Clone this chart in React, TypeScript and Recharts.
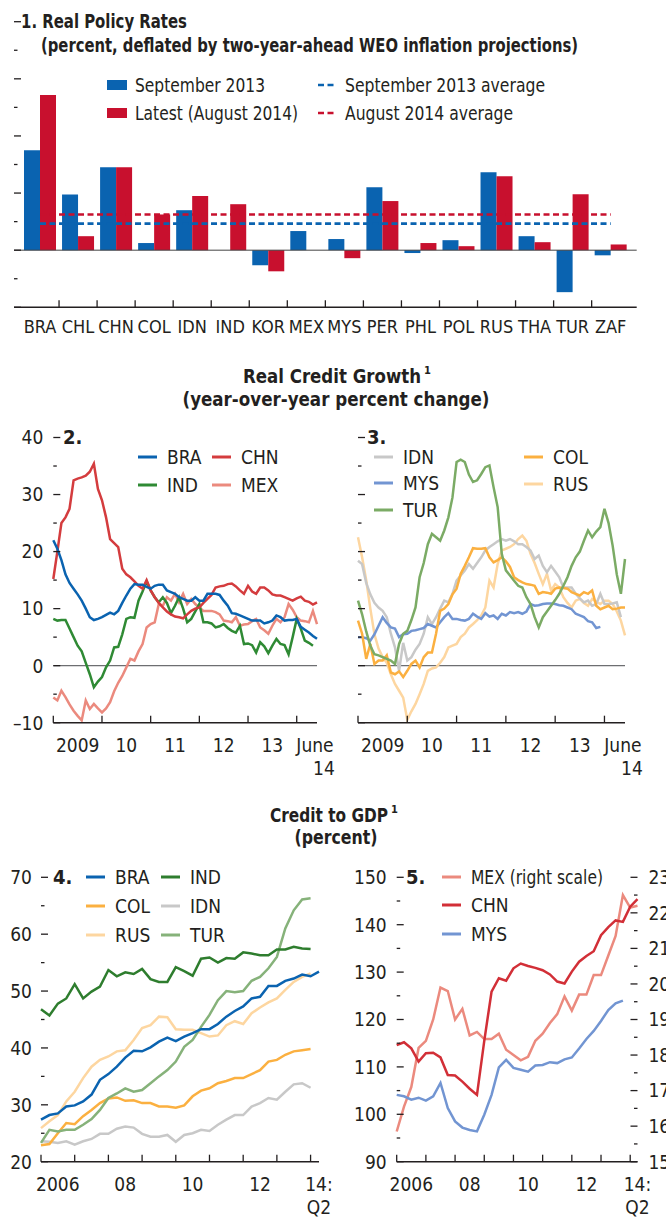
import { BarChart, Bar, LineChart, Line, XAxis, YAxis, ReferenceLine } from "recharts";

const FONT = "'Liberation Sans Narrow', 'Arial Narrow', 'DejaVu Sans Condensed', sans-serif";
const INK = "#231f20";

// ---- 1. Real policy rates (percent)
const policyCountries = ["BRA", "CHL", "CHN", "COL", "IDN", "IND", "KOR", "MEX", "MYS", "PER", "PHL", "POL", "RUS", "THA", "TUR", "ZAF"];
const policySep2013 = [3.5, 1.95, 2.9, 0.25, 1.4, null, -0.53, 0.67, 0.39, 2.2, -0.1, 0.35, 2.73, 0.49, -1.47, -0.18];
const policyAug2014 = [5.43, 0.49, 2.9, 1.25, 1.9, 1.61, -0.74, null, -0.28, 1.72, 0.25, 0.14, 2.59, 0.28, 1.96, 0.2];
const policyAvgSep2013 = 0.93;
const policyAvgAug2014 = 1.25;
const policyTicks = [-2, -1, 0, 1, 2, 3, 4, 5, 6, 7, 8];

// ---- 2./3. Real credit growth, monthly from Jan 2009
const growthBRA = [22, 20.5, 18.5, 16, 14.5, 13.5, 12.5, 11.4, 10, 8.5, 8, 8.2, 8.5, 8.9, 9.3, 9, 9.6, 11, 12.3, 13.5, 14.3, 14.2, 14.2, 13.8, 13.5, 14, 14.2, 14.2, 13.2, 12.9, 12.6, 12, 11.7, 11.4, 11.4, 12, 11.4, 11.4, 12.6, 12.6, 12.6, 12.4, 11.4, 10.5, 9.2, 9.1, 8.8, 8.5, 8.2, 7.9, 7.9, 7.9, 7.4, 7.6, 7.9, 8.8, 8.5, 7.9, 8, 8, 8.2, 6.8, 6.3, 5.8, 5.2, 4.7];
const growthCHN = [15.2, 20, 25, 26, 27.5, 32.5, 32.8, 33, 33.3, 34, 35.4, 31, 29, 26, 22.2, 21.5, 20.8, 17, 16, 15.5, 14.8, 14, 13.5, 15, 13.2, 12, 11, 10.2, 9.5, 9, 8.6, 8.5, 8.3, 9, 9.6, 10, 10.2, 11, 11.7, 12.4, 13.7, 13.9, 14, 14.3, 14.4, 13.9, 13.2, 12.6, 14, 13, 12.6, 13.7, 13.7, 13.2, 12.5, 12.3, 12.3, 12, 11.7, 11.4, 11.8, 12.1, 11.4, 11.2, 10.7, 11.1];
const growthIND = [8.2, 7.9, 8, 8, 6.5, 5, 3.5, 2.5, 0.5, -1.5, -3.8, -2.8, -2, -0.3, 0.9, 3.2, 3.3, 5.5, 8.2, 8.5, 8.4, 11.4, 13, 14.8, 13.2, 12, 11.1, 12, 11, 9.2, 10.5, 12, 10, 7.6, 8.2, 9.5, 10.8, 7.6, 7.6, 7.4, 6.7, 6.9, 7.3, 6.6, 6.1, 5.8, 7, 3.8, 3.9, 3.6, 2.3, 4.1, 3.4, 2.2, 3.5, 4.7, 3.8, 3.6, 2, 5, 8.2, 6.5, 4.4, 4, 3.5];
const growthMEX = [-5.6, -6.1, -4.4, -5.5, -6.8, -7.9, -8.8, -9.6, -6.1, -7.6, -6.7, -7.5, -8.2, -7.5, -6.4, -4.5, -3, -1.8, -0.3, 1.2, 0.9, 2.5, 3.8, 6.7, 7.3, 7.6, 10.8, 10.5, 12, 11.4, 12.6, 11.1, 12.6, 10.8, 11.7, 10.8, 10.2, 9.6, 9.6, 9.6, 9.4, 9, 7.9, 7.8, 7.6, 8.5, 7, 7.2, 7.3, 7.8, 8.2, 6.7, 6.2, 5.6, 7, 8.2, 7.6, 8.5, 10.8, 9.8, 8.5, 7.9, 7.8, 7.6, 9.6, 7.3];
const growthIDN = [18.4, 17.8, 14.5, 12.5, 11, 10.2, 9.6, 8.5, 5.6, 3.2, -0.9, 4, 0.9, 1.5, 2.8, 3.8, 5.6, 8.5, 7.3, 8.5, 10, 11.4, 11.1, 12.6, 14.9, 15.8, 16.7, 17.8, 17, 18, 19, 20.2, 20.8, 21.3, 21.8, 22.2, 21.9, 22.2, 21.8, 21.3, 21.3, 20.8, 20.2, 18.7, 19.3, 17.5, 16.4, 17.5, 16.5, 15.5, 13.7, 13.7, 13.7, 12.6, 11.8, 11.1, 11.4, 10.5, 10.8, 12.6, 10.8, 10.8, 10.9, 11.1, 8.5];
const growthMYS = [5, 5, 4.8, 4.4, 5.5, 7, 8.5, 7.5, 6.7, 6.5, 5, 5.5, 5.6, 6.1, 6.2, 6.4, 6.6, 7.3, 7, 6.7, 7.6, 8.5, 9.2, 8.2, 8.2, 8, 7.9, 8.2, 9.1, 8.6, 8.2, 9.2, 8.6, 8.8, 8.2, 9.1, 8.8, 9.4, 9.2, 9.4, 9.1, 9.5, 10.8, 10.5, 10.6, 10.8, 10.9, 10.9, 10.8, 10.6, 10.5, 10.2, 9.9, 9.1, 8.8, 8.5, 7.8, 7.6, 6.6, 6.8];
const growthTUR = [11.4, 9, 6, 3.5, 2, 1.8, 1.5, 1.2, 0.9, 0.3, 3.8, 5.6, 6.1, 8, 10.2, 15.5, 18, 21.3, 23.1, 22.5, 21.9, 23.7, 26, 29.5, 35.7, 36.1, 35.7, 33.5, 32.2, 32.5, 33.6, 34.8, 35.1, 31.3, 27.8, 19.6, 16.7, 15.8, 14.9, 14, 13.7, 12, 10.8, 8.5, 6.7, 8.5, 9.5, 10.5, 11.5, 12.6, 14, 15.5, 17.5, 19, 20, 21.9, 23.7, 22.5, 23.5, 24.3, 27.5, 25, 21, 16, 12.6, 18.7];
const growthCOL = [7.9, 5.6, 1.2, 3.8, 0.3, 0.9, 0.9, 1.8, -1.2, -1.5, -1, -2, -0.9, 0.3, 0.9, -0.3, 1.5, 2.3, 2.3, 5.6, 9.6, 10, 10.8, 12.5, 13.5, 16.1, 17.5, 19, 20.6, 20.5, 20.5, 20.6, 19, 18.1, 18.5, 19, 18.3, 17.3, 15.5, 15, 14.6, 14.3, 14.2, 14, 12.6, 12.9, 12.8, 12.6, 13.5, 13.7, 13.6, 13.5, 12.9, 12.6, 12.3, 12.9, 12.6, 13.2, 10.5, 9.9, 10.2, 10.5, 9.9, 10, 10.2, 10.2];
const growthRUS = [22.5, 19, 15, 10, 5.5, 3, 1.5, 0.5, -1.5, -3.2, -4.4, -5.6, -9.5, -8, -6.7, -5, -3.2, -0.9, -0.5, -0.3, 0.5, 1.5, 3.2, 3.5, 3.8, 5, 5.6, 6.7, 7.3, 8, 8.8, 10.2, 14.9, 13.7, 17.8, 20.2, 20.5, 20.8, 21.3, 22.2, 22.8, 21.9, 19.6, 18, 16.1, 14.3, 16.1, 13.2, 14.3, 13.7, 12, 11, 10.2, 11.4, 11.7, 11, 10.5, 11.7, 11.2, 10.8, 11.4, 11.4, 10.8, 9.5, 7.9, 5.3];
const growthYearMarks = [0, 12, 24, 36, 48, 60];
const growthLabelPos = [6, 18, 30, 42, 54, 64.5];
const growthLabelText = ["2009", "10", "11", "12", "13", "June"];
const growthTicksY = [-10, -5, 0, 5, 10, 15, 20, 25, 30, 35, 40];

// ---- 4./5. Credit to GDP, quarterly from 2006:Q1
const gdpBRA = [27.4, 28.2, 28.5, 29.7, 29.9, 30.6, 31.8, 34.4, 35.4, 36.7, 38.3, 39.5, 39.4, 40.1, 41.1, 41.8, 41.2, 42, 42.6, 43.3, 43.3, 44.2, 45.5, 46.5, 47.3, 48.7, 49, 50.9, 50.9, 51.8, 52.2, 52.9, 52.6, 53.4];
const gdpIND = [46.8, 45.7, 47.8, 48.7, 51.2, 48.7, 49.9, 50.8, 53.7, 52.6, 53.3, 53, 53.9, 52.1, 51.6, 51.6, 54.2, 53.5, 52.7, 55.7, 55.9, 55, 55.8, 55.7, 56.8, 56.6, 56.3, 56.3, 57.3, 57.3, 57.8, 57.5, 57.4];
const gdpCOL = [22.9, 23.1, 25, 26.8, 26.6, 28, 29.1, 30.3, 31.1, 31.3, 30.7, 30.8, 30.3, 30.3, 29.7, 29.7, 29.5, 29.9, 31.5, 32.5, 32.9, 33.8, 34.2, 34.7, 34.7, 35.4, 36.1, 37.6, 37.9, 38.8, 39.4, 39.6, 39.8];
const gdpIDN = [23.6, 23.5, 23.3, 23.6, 23, 23.6, 24, 24.9, 24.9, 25.8, 26.2, 26, 24.9, 24.4, 24.4, 24.7, 23.5, 24.7, 25, 25.6, 25.4, 26.5, 27.4, 28.2, 28.2, 29.7, 30.3, 31.2, 30.9, 32.3, 33.6, 33.8, 33];
const gdpRUS = [25.9, 27.1, 28.2, 30.6, 32.3, 34.7, 36.7, 37.9, 38.5, 39.4, 39.6, 41.4, 43.5, 44, 45.5, 45.4, 43.3, 43.2, 43.2, 42.6, 42, 42.2, 44, 44.7, 44.2, 46.1, 47.1, 48, 48.7, 50.2, 51.6, 52.5, 53.1];
const gdpTUR = [23.3, 25.6, 25.3, 25.6, 25.6, 26.5, 27.5, 29.1, 31.2, 32, 32.9, 32.3, 32.6, 33.8, 35, 36.1, 37.6, 40.2, 41.4, 43.7, 45.8, 48.4, 50, 49.8, 50, 51.8, 52.5, 54, 56, 61, 64.2, 66.1, 66.3];
const gdpCHN = [114.6, 115.2, 113.9, 111.1, 112.9, 113, 112, 108.3, 108.2, 106.9, 105.4, 104.1, 115.5, 125.9, 128.7, 128.2, 130.8, 131.8, 131.3, 130.9, 130.4, 129.5, 128, 127.6, 130.1, 132.2, 133.4, 134.4, 137.8, 139.5, 140.9, 140.6, 143.8, 145.4];
const gdpMYS = [104.1, 103.8, 103.1, 103.5, 102.9, 103.8, 106.6, 101.3, 98.5, 97.2, 96.7, 96.4, 99.9, 104.1, 109.9, 111.5, 109.8, 109.4, 109, 110.3, 110.4, 111, 110.8, 111.6, 112, 113.9, 115.9, 117.6, 119.7, 122, 123.4, 124];
const gdpMEX = [15.85, 16.55, 17.1, 18.2, 18.4, 19, 19.9, 19.8, 19, 19.3, 18.55, 18.65, 18.45, 18.45, 18.6, 18.15, 18, 17.85, 17.95, 18.4, 18.6, 18.9, 19.15, 19.65, 19.25, 19.7, 19.7, 20.25, 20.25, 20.8, 21.35, 22.5, 22.15, 22.2];
const gdpYearMarks = [0, 4, 8, 12, 16, 20, 24, 28, 32];
const gdpLabelPos = [2, 10, 18, 26, 33];
const gdpLabelText = ["2006", "08", "10", "12", "14:"];
const gdpTicksLeft4 = [20, 25, 30, 35, 40, 45, 50, 55, 60, 65, 70];
const gdpTicksLeft5 = [90, 95, 100, 105, 110, 115, 120, 125, 130, 135, 140, 145, 150];
const gdpTicksRight5 = [15, 15.5, 16, 16.5, 17, 17.5, 18, 18.5, 19, 19.5, 20, 20.5, 21, 21.5, 22, 22.5, 23];

const C = {
  blue: "#0a63b0",
  red: "#c8102e",
  chn2: "#d43c3e",
  ind: "#2f8a34",
  mex: "#eb8a7e",
  idn: "#c8c8c8",
  mys: "#7295d2",
  tur: "#7bab65",
  col: "#fbb040",
  rus: "#fdd6a0",
  ind4: "#2e7d2e",
  tur4: "#86b27a",
  chn5: "#d22f37",
};

const growthRows = growthBRA.map((_, m) => ({
  m,
  BRA: growthBRA[m] ?? null,
  CHN: growthCHN[m] ?? null,
  IND: growthIND[m] ?? null,
  MEX: growthMEX[m] ?? null,
  IDN: growthIDN[m] ?? null,
  MYS: growthMYS[m] ?? null,
  TUR: growthTUR[m] ?? null,
  COL: growthCOL[m] ?? null,
  RUS: growthRUS[m] ?? null,
}));

const gdpRows = gdpBRA.map((_, q) => ({
  q,
  BRA: gdpBRA[q] ?? null,
  IND: gdpIND[q] ?? null,
  COL: gdpCOL[q] ?? null,
  IDN: gdpIDN[q] ?? null,
  RUS: gdpRUS[q] ?? null,
  TUR: gdpTUR[q] ?? null,
  CHN: gdpCHN[q] ?? null,
  MYS: gdpMYS[q] ?? null,
  MEX: gdpMEX[q] ?? null,
}));

const fmtNum = (v: number) => (v < 0 ? "\u2013" + Math.abs(v) : String(v));

// inward-pointing edge ticks, long on majors, short on minors
function yTick(side: "left" | "right", majorStep: number, showLabels: boolean, gap = 9) {
  return (p: any) => {
    const v = Number(p.payload.value);
    const major = Math.abs(v / majorStep - Math.round(v / majorStep)) < 1e-6;
    const len = major ? 7 : 3.5;
    const dir = side === "left" ? 1 : -1;
    return (
      <g>
        <line x1={p.x} x2={p.x + dir * len} y1={p.y} y2={p.y} stroke={INK} strokeWidth={1.3} />
        {showLabels && major && (
          <text x={p.x - dir * gap} y={p.y} dy="0.36em" textAnchor={side === "left" ? "end" : "start"} fontFamily={FONT} fontSize={19} fill={INK}>
            {fmtNum(v)}
          </text>
        )}
      </g>
    );
  };
}

function timeTick(marks: number[], pos: number[], text: string[], second: string, secondDx: number) {
  return (p: any) => {
    const v = Number(p.payload.value);
    const i = pos.indexOf(v);
    return (
      <g>
        {marks.includes(v) && <line x1={p.x} x2={p.x} y1={p.y} y2={p.y - 7} stroke={INK} strokeWidth={1.3} />}
        {i >= 0 && (
          <text x={p.x} y={p.y + 29} textAnchor="middle" fontFamily={FONT} fontSize={19} fill={INK}>
            {text[i]}
          </text>
        )}
        {i === pos.length - 1 && (
          <text x={p.x + secondDx} y={p.y + 52} textAnchor="middle" fontFamily={FONT} fontSize={19} fill={INK}>
            {second}
          </text>
        )}
      </g>
    );
  };
}

const sortedTicks = (a: number[], b: number[]) => Array.from(new Set([...a, ...b])).sort((x, y) => x - y);

// panel 1 geometry
const P1_LEFT = 14;
const P1_RIGHT = 636.7;
const P1_PAD = 7;
const P1_BAND = (P1_RIGHT - P1_LEFT - 2 * P1_PAD) / policyCountries.length;

const policyXTick = (p: any) => {
  const idx = policyCountries.indexOf(p.payload.value);
  return (
    <g>
      <text x={p.x} y={p.y + 26} textAnchor="middle" fontFamily={FONT} fontSize={18} fill={INK}>
        {p.payload.value}
      </text>
      {idx < policyCountries.length - 1 && (
        <line x1={p.x + P1_BAND / 2} x2={p.x + P1_BAND / 2} y1={p.y} y2={p.y - 7} stroke={INK} strokeWidth={1.3} />
      )}
    </g>
  );
};

function PolicyRates() {
  const data = policyCountries.map((c, i) => ({ c, sep: policySep2013[i], aug: policyAug2014[i] }));
  return (
    <div style={{ position: "absolute", left: 0, top: 0 }}>
      <BarChart width={666} height={345} data={data} margin={{ top: 21.7, right: 0, bottom: 0, left: 0 }} barCategoryGap={3} barGap={0}>
        <XAxis dataKey="c" height={345 - 307.3} padding={{ left: P1_PAD, right: P1_PAD }} interval={0} tickSize={0} tickMargin={0} tickLine={false} axisLine={{ stroke: INK, strokeWidth: 1.5 }} tick={policyXTick} />
        <YAxis yAxisId="l" width={P1_LEFT} domain={[-2, 8]} ticks={policyTicks} interval={0} tickSize={0} tickMargin={0} axisLine={false} tickLine={false} tick={yTick("left", 2, false)} />
        <YAxis yAxisId="r" orientation="right" width={666 - P1_RIGHT} domain={[-2, 8]} ticks={policyTicks} interval={0} tickSize={0} tickMargin={0} axisLine={false} tickLine={false} tick={yTick("right", 2, true, 8)} />
        <Bar yAxisId="l" dataKey="sep" fill={C.blue} isAnimationActive={false} />
        <Bar yAxisId="l" dataKey="aug" fill={C.red} isAnimationActive={false} />
        <ReferenceLine yAxisId="l" y={0} stroke="#444" strokeWidth={1} />
        <ReferenceLine yAxisId="l" segment={[{ x: "BRA", y: policyAvgAug2014 }, { x: "ZAF", y: policyAvgAug2014 }]} stroke={C.red} strokeWidth={2.6} strokeDasharray="6 3.5" />
        <ReferenceLine yAxisId="l" segment={[{ x: "BRA", y: policyAvgSep2013 }, { x: "ZAF", y: policyAvgSep2013 }]} stroke={C.blue} strokeWidth={2.6} strokeDasharray="6 3.5" />
      </BarChart>
    </div>
  );
}

const lineProps = { type: "linear" as const, dot: false, strokeWidth: 2.5, isAnimationActive: false };

function GrowthPanel({ left, plotLeft, plotRight, width, labelsRight, series }: { left: number; plotLeft: number; plotRight: number; width: number; labelsRight: boolean; series: { key: string; color: string }[] }) {
  return (
    <div style={{ position: "absolute", left, top: 420 }}>
      <LineChart width={width} height={360} data={growthRows} margin={{ top: 17.5, right: 0, bottom: 0, left: 0 }}>
        <XAxis dataKey="m" type="number" domain={[0, 65]} ticks={sortedTicks(growthYearMarks, growthLabelPos)} interval={0} height={360 - 302.7} tickSize={0} tickMargin={0} tickLine={false} axisLine={{ stroke: INK, strokeWidth: 1.5 }} tick={timeTick(growthYearMarks, growthLabelPos, growthLabelText, "14", 9)} />
        <YAxis yAxisId="l" width={plotLeft - left} domain={[-10, 40]} ticks={growthTicksY} interval={0} tickSize={0} tickMargin={0} axisLine={false} tickLine={false} tick={yTick("left", 10, !labelsRight, 10)} />
        <YAxis yAxisId="r" orientation="right" width={left + width - plotRight} domain={[-10, 40]} ticks={growthTicksY} interval={0} tickSize={0} tickMargin={0} axisLine={false} tickLine={false} tick={yTick("right", 10, labelsRight, 7)} />
        <ReferenceLine yAxisId="l" y={0} stroke="#6d6e71" strokeWidth={1.2} />
        {series.map((s) => (
          <Line key={s.key} yAxisId="l" dataKey={s.key} stroke={s.color} {...lineProps} />
        ))}
      </LineChart>
    </div>
  );
}

function GdpLeft() {
  const series = [
    { key: "RUS", color: C.rus },
    { key: "IDN", color: C.idn },
    { key: "COL", color: C.col },
    { key: "TUR", color: C.tur4 },
    { key: "BRA", color: C.blue },
    { key: "IND", color: C.ind4 },
  ];
  return (
    <div style={{ position: "absolute", left: 0, top: 860 }}>
      <LineChart width={340} height={357} data={gdpRows} margin={{ top: 17.3, right: 0, bottom: 0, left: 0 }}>
        <XAxis dataKey="q" type="number" domain={[0, 33]} ticks={sortedTicks(gdpYearMarks, gdpLabelPos)} interval={0} height={357 - 301.7} tickSize={0} tickMargin={0} tickLine={false} axisLine={{ stroke: INK, strokeWidth: 1.5 }} tick={timeTick(gdpYearMarks, gdpLabelPos, gdpLabelText, "Q2", 0)} />
        <YAxis yAxisId="l" width={41} domain={[20, 70]} ticks={gdpTicksLeft4} interval={0} tickSize={0} tickMargin={0} axisLine={false} tickLine={false} tick={yTick("left", 10, true, 9)} />
        <YAxis yAxisId="r" orientation="right" width={340 - 319} domain={[20, 70]} ticks={gdpTicksLeft4} interval={0} tickSize={0} tickMargin={0} axisLine={false} tickLine={false} tick={yTick("right", 10, false)} />
        {series.map((s) => (
          <Line key={s.key} yAxisId="l" dataKey={s.key} stroke={s.color} {...lineProps} />
        ))}
      </LineChart>
    </div>
  );
}

function GdpRight() {
  return (
    <div style={{ position: "absolute", left: 340, top: 860 }}>
      <LineChart width={326} height={357} data={gdpRows} margin={{ top: 17.3, right: 0, bottom: 0, left: 0 }}>
        <XAxis dataKey="q" type="number" domain={[0, 33]} ticks={sortedTicks(gdpYearMarks, gdpLabelPos)} interval={0} height={357 - 301.7} tickSize={0} tickMargin={0} tickLine={false} axisLine={{ stroke: INK, strokeWidth: 1.5 }} tick={timeTick(gdpYearMarks, gdpLabelPos, gdpLabelText, "Q2", 0)} />
        <YAxis yAxisId="l" width={396.7 - 340} domain={[90, 150]} ticks={gdpTicksLeft5} interval={0} tickSize={0} tickMargin={0} axisLine={false} tickLine={false} tick={yTick("left", 10, true, 10)} />
        <YAxis yAxisId="r" orientation="right" width={666 - 637.5} domain={[15, 23]} ticks={gdpTicksRight5} interval={0} tickSize={0} tickMargin={0} axisLine={false} tickLine={false} tick={yTick("right", 1, true, 11)} />
        <Line yAxisId="r" dataKey="MEX" stroke={C.mex} {...lineProps} />
        <Line yAxisId="l" dataKey="MYS" stroke={C.mys} {...lineProps} />
        <Line yAxisId="l" dataKey="CHN" stroke={C.chn5} {...lineProps} />
      </LineChart>
    </div>
  );
}

function LegendLine({ x, y, color, label, dashed, w }: { x: number; y: number; color: string; label: string; dashed?: boolean; w?: number }) {
  return (
    <g>
      <line x1={x} x2={x + 19} y1={y} y2={y} stroke={color} strokeWidth={dashed ? 2.6 : 3} strokeDasharray={dashed ? "6 3.5" : undefined} />
      <text x={x + (dashed ? 27 : 29)} y={y} dy="0.36em" fontSize={19} textLength={w} lengthAdjust={w ? "spacingAndGlyphs" : undefined}>
        {label}
      </text>
    </g>
  );
}

function LegendBox({ x, y, color, label, w }: { x: number; y: number; color: string; label: string; w?: number }) {
  return (
    <g>
      <rect x={x} y={y - 5} width={20} height={10} fill={color} />
      <text x={x + 28} y={y} dy="0.36em" fontSize={19} textLength={w} lengthAdjust={w ? "spacingAndGlyphs" : undefined}>
        {label}
      </text>
    </g>
  );
}

const squeeze = "spacingAndGlyphs";

// bold centred heading with a footnote mark after it
function Heading({ cx, y, len, text, note }: { cx: number; y: number; len: number; text: string; note?: string }) {
  return (
    <g>
      <text x={cx} y={y} fontSize={20} fontWeight="bold" textAnchor="middle" textLength={len} lengthAdjust={squeeze}>
        {text}
      </text>
      {note && (
        <text x={cx + len / 2 + 3} y={y - 9} fontSize={11} fontWeight="bold">
          {note}
        </text>
      )}
    </g>
  );
}

function Overlay() {
  return (
    <svg width={666} height={1217} style={{ position: "absolute", left: 0, top: 0, pointerEvents: "none" }} fontFamily={FONT} fill={INK}>
      <text x={21} y={28} fontSize={20} fontWeight="bold" textLength={166} lengthAdjust={squeeze}>1. Real Policy Rates</text>
      <text x={41} y={52} fontSize={20} fontWeight="bold" textLength={537} lengthAdjust={squeeze}>(percent, deflated by two-year-ahead WEO inflation projections)</text>
      <LegendBox x={107} y={85} color={C.blue} label="September 2013" w={130} />
      <LegendBox x={107} y={113} color={C.red} label="Latest (August 2014)" w={163} />
      <LegendLine x={318} y={85} color={C.blue} label="September 2013 average" dashed w={200} />
      <LegendLine x={318} y={113} color={C.red} label="August 2014 average" dashed w={168} />

      <Heading cx={332} y={383} len={178} text="Real Credit Growth" note="1" />
      <Heading cx={336} y={406} len={307} text="(year-over-year percent change)" />
      <text x={63} y={444} fontSize={20} fontWeight="bold">2.</text>
      <LegendLine x={138} y={457} color={C.blue} label="BRA" />
      <LegendLine x={212} y={457} color={C.chn2} label="CHN" />
      <LegendLine x={138} y={485} color={C.ind} label="IND" />
      <LegendLine x={212} y={485} color={C.mex} label="MEX" />

      <text x={367} y={444} fontSize={20} fontWeight="bold">3.</text>
      <LegendLine x={374} y={457} color={C.idn} label="IDN" />
      <LegendLine x={374} y={483} color={C.mys} label="MYS" />
      <LegendLine x={374} y={510} color={C.tur} label="TUR" />
      <LegendLine x={524} y={457} color={C.col} label="COL" />
      <LegendLine x={524} y={484} color={C.rus} label="RUS" />

      <Heading cx={329} y={822} len={118} text="Credit to GDP" note="1" />
      <Heading cx={336} y={844} len={83} text="(percent)" />
      <text x={53} y={884} fontSize={20} fontWeight="bold">4.</text>
      <LegendLine x={86} y={877} color={C.blue} label="BRA" />
      <LegendLine x={161} y={877} color={C.ind4} label="IND" />
      <LegendLine x={86} y={906} color={C.col} label="COL" />
      <LegendLine x={161} y={906} color={C.idn} label="IDN" />
      <LegendLine x={86} y={935} color={C.rus} label="RUS" />
      <LegendLine x={161} y={935} color={C.tur4} label="TUR" />

      <text x={406} y={884} fontSize={20} fontWeight="bold">5.</text>
      <LegendLine x={442} y={877} color={C.mex} label="MEX (right scale)" w={132} />
      <LegendLine x={442} y={905} color={C.chn5} label="CHN" />
      <LegendLine x={442} y={934} color={C.mys} label="MYS" />
    </svg>
  );
}

export default function App() {
  return (
    <div style={{ position: "absolute", left: 0, top: 0, width: 666, height: 1217, background: "#fff", overflow: "hidden", fontFamily: FONT }}>
      <PolicyRates />
      <GrowthPanel
        left={0}
        plotLeft={53.3}
        plotRight={317}
        width={340}
        labelsRight={false}
        series={[
          { key: "MEX", color: C.mex },
          { key: "IND", color: C.ind },
          { key: "CHN", color: C.chn2 },
          { key: "BRA", color: C.blue },
        ]}
      />
      <GrowthPanel
        left={340}
        plotLeft={358}
        plotRight={625}
        width={326}
        labelsRight={true}
        series={[
          { key: "RUS", color: C.rus },
          { key: "IDN", color: C.idn },
          { key: "MYS", color: C.mys },
          { key: "COL", color: C.col },
          { key: "TUR", color: C.tur },
        ]}
      />
      <GdpLeft />
      <GdpRight />
      <Overlay />
    </div>
  );
}
